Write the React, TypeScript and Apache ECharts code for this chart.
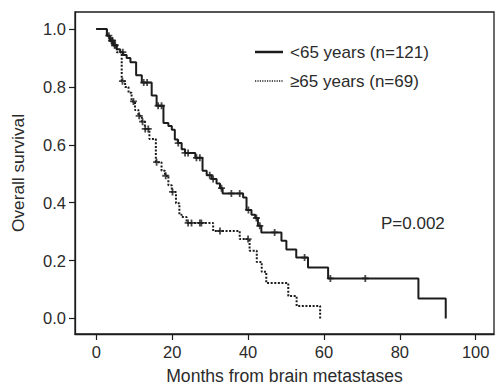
import React, { useEffect, useRef } from "react";
import * as echarts from "echarts";

// Kaplan-Meier steps: [month, survival after drop]
const youngSteps: [number, number][] = [
  [0, 1], [2.8, 0.977], [3.6, 0.96], [4.5, 0.944], [5.4, 0.93], [6.3, 0.92], [7.1, 0.91],
  [8.0, 0.9], [9.0, 0.885], [10.5, 0.84], [12.0, 0.815], [14.6, 0.77], [15.9, 0.735],
  [17.7, 0.675], [19.0, 0.665], [19.9, 0.652], [20.7, 0.618], [21.5, 0.606], [22.5, 0.585],
  [23.4, 0.572], [26.1, 0.555], [28.0, 0.51], [29.1, 0.495], [30.4, 0.482], [31.7, 0.466],
  [32.6, 0.45], [33.3, 0.432], [38.7, 0.418], [39.6, 0.375], [40.9, 0.358], [41.9, 0.347],
  [42.6, 0.32], [43.5, 0.297], [48.8, 0.268], [50.1, 0.238], [52.7, 0.21], [55.8, 0.176],
  [61.1, 0.138], [84.9, 0.069], [92.1, 0],
];
const oldSteps: [number, number][] = [
  [0, 1], [2.8, 0.977], [3.6, 0.96], [4.5, 0.944], [5.4, 0.92], [6.7, 0.82], [7.6, 0.8],
  [8.5, 0.78], [9.3, 0.75], [10.2, 0.72], [11.1, 0.7], [12.0, 0.68], [12.8, 0.655],
  [14.0, 0.62], [15.7, 0.54], [17.2, 0.51], [18.1, 0.493], [19.0, 0.46], [19.9, 0.437],
  [21.0, 0.398], [21.9, 0.358], [22.5, 0.35], [23.8, 0.33], [30.8, 0.302], [37.8, 0.274],
  [40.4, 0.234], [42.3, 0.195], [43.6, 0.161], [44.8, 0.122], [50.6, 0.077], [52.8, 0.043],
  [59.0, 0],
];
const youngCensored: number[] = [
  3.3, 4.0, 4.3, 4.8, 7.0, 12.5, 13.4, 16.3, 17.2, 21.6, 23.4, 24.2, 26.4, 27.3, 29.9, 30.8,
  33.0, 35.6, 37.8, 40.1, 42.2, 43.1, 47.0, 54.9, 61.7, 70.9,
];
const oldCensored: number[] = [
  4.2, 5.0, 6.9, 9.8, 11.3, 12.2, 12.9, 13.7, 15.9, 18.3, 20.1, 24.2, 25.1, 27.3, 27.7,
  32.6, 40.0,
];
const xTicks = [0, 20, 40, 60, 80, 100];
const yTicks = [0, 0.2, 0.4, 0.6, 0.8, 1.0];
const legendNames = ["<65 years (n=121)", "\u226565 years (n=69)"];
const pValueText = "P=0.002";

const survivalAt = (steps: [number, number][], t: number) => {
  let v = steps[0][1];
  for (const [m, s] of steps) {
    if (m <= t) v = s;
    else break;
  }
  return v;
};

const INK = "#1c1c1c";
const TXT = "#2b2b2b";
const FONT = "'Liberation Sans', Arial, Helvetica, sans-serif";
const PLUS = "path://M2.6,0H4.4V2.6H7V4.4H4.4V7H2.6V4.4H0V2.6H2.6Z";

export default function App() {
  const ref = useRef<HTMLDivElement>(null);
  useEffect(() => {
    if (!ref.current) return;
    const chart = echarts.init(ref.current, null, { renderer: "svg" });
    chart.setOption({
      animation: false,
      backgroundColor: "#ffffff",
      textStyle: { fontFamily: FONT },
      grid: {
        left: 75, top: 12, right: 2, bottom: 48,
        show: true, borderColor: INK, borderWidth: 1.3, containLabel: false,
      },
      xAxis: {
        type: "value",
        min: -5.61,
        max: 104.82,
        splitLine: { show: false },
        axisLine: { show: true, onZero: false, lineStyle: { color: INK, width: 1.3 } },
        axisTick: { show: true, inside: false, length: 6, lineStyle: { color: INK, width: 1.2 }, customValues: xTicks },
        axisLabel: { color: TXT, fontSize: 16.5, fontFamily: FONT, margin: 9, customValues: xTicks },
        name: "Months from brain metastases",
        nameLocation: "middle",
        nameGap: 33,
        nameTextStyle: { color: TXT, fontSize: 17.6, fontFamily: FONT },
      },
      yAxis: {
        type: "value",
        min: -0.054,
        max: 1.059,
        splitLine: { show: false },
        axisLine: { show: true, onZero: false, lineStyle: { color: INK, width: 1.3 } },
        axisTick: { show: true, inside: false, length: 6, lineStyle: { color: INK, width: 1.2 }, customValues: yTicks },
        axisLabel: {
          color: TXT, fontSize: 16.5, fontFamily: FONT, margin: 9, customValues: yTicks,
          formatter: (v: number) => v.toFixed(1),
        },
        name: "Overall survival",
        nameLocation: "middle",
        nameGap: 49,
        nameTextStyle: { color: TXT, fontSize: 17.3, fontFamily: FONT },
      },
      series: [
        {
          type: "line", name: legendNames[0], step: "end", data: youngSteps, symbol: "none",
          lineStyle: { color: INK, width: 2 }, silent: true,
        },
        {
          type: "line", name: legendNames[1], step: "end", data: oldSteps, symbol: "none",
          lineStyle: { color: INK, width: 2, type: [2, 1.6] }, silent: true,
        },
        {
          type: "scatter", data: youngCensored.map((m) => [m, survivalAt(youngSteps, m)]),
          symbol: PLUS, symbolSize: 7, itemStyle: { color: INK }, silent: true,
        },
        {
          type: "scatter", data: oldCensored.map((m) => [m, survivalAt(oldSteps, m)]),
          symbol: PLUS, symbolSize: 7, itemStyle: { color: INK }, silent: true,
        },
      ],
      graphic: [
        { type: "line", shape: { x1: 255, y1: 52, x2: 283, y2: 52 }, style: { stroke: INK, lineWidth: 2.5 } },
        { type: "line", shape: { x1: 255, y1: 81, x2: 283, y2: 81 }, style: { stroke: INK, lineWidth: 1.3, lineDash: [1.2, 1.2] } },
        { type: "text", x: 290, y: 52, style: { text: legendNames[0], fill: TXT, font: `17px ${FONT}`, textVerticalAlign: "middle" } },
        { type: "text", x: 290, y: 81, style: { text: legendNames[1], fill: TXT, font: `17px ${FONT}`, textVerticalAlign: "middle" } },
        { type: "text", x: 381, y: 223, style: { text: pValueText, fill: TXT, font: `17px ${FONT}`, textVerticalAlign: "middle" } },
      ],
    });
    return () => chart.dispose();
  }, []);
  return <div ref={ref} style={{ position: "absolute", left: 0, top: 0, width: 496, height: 390 }} />;
}
